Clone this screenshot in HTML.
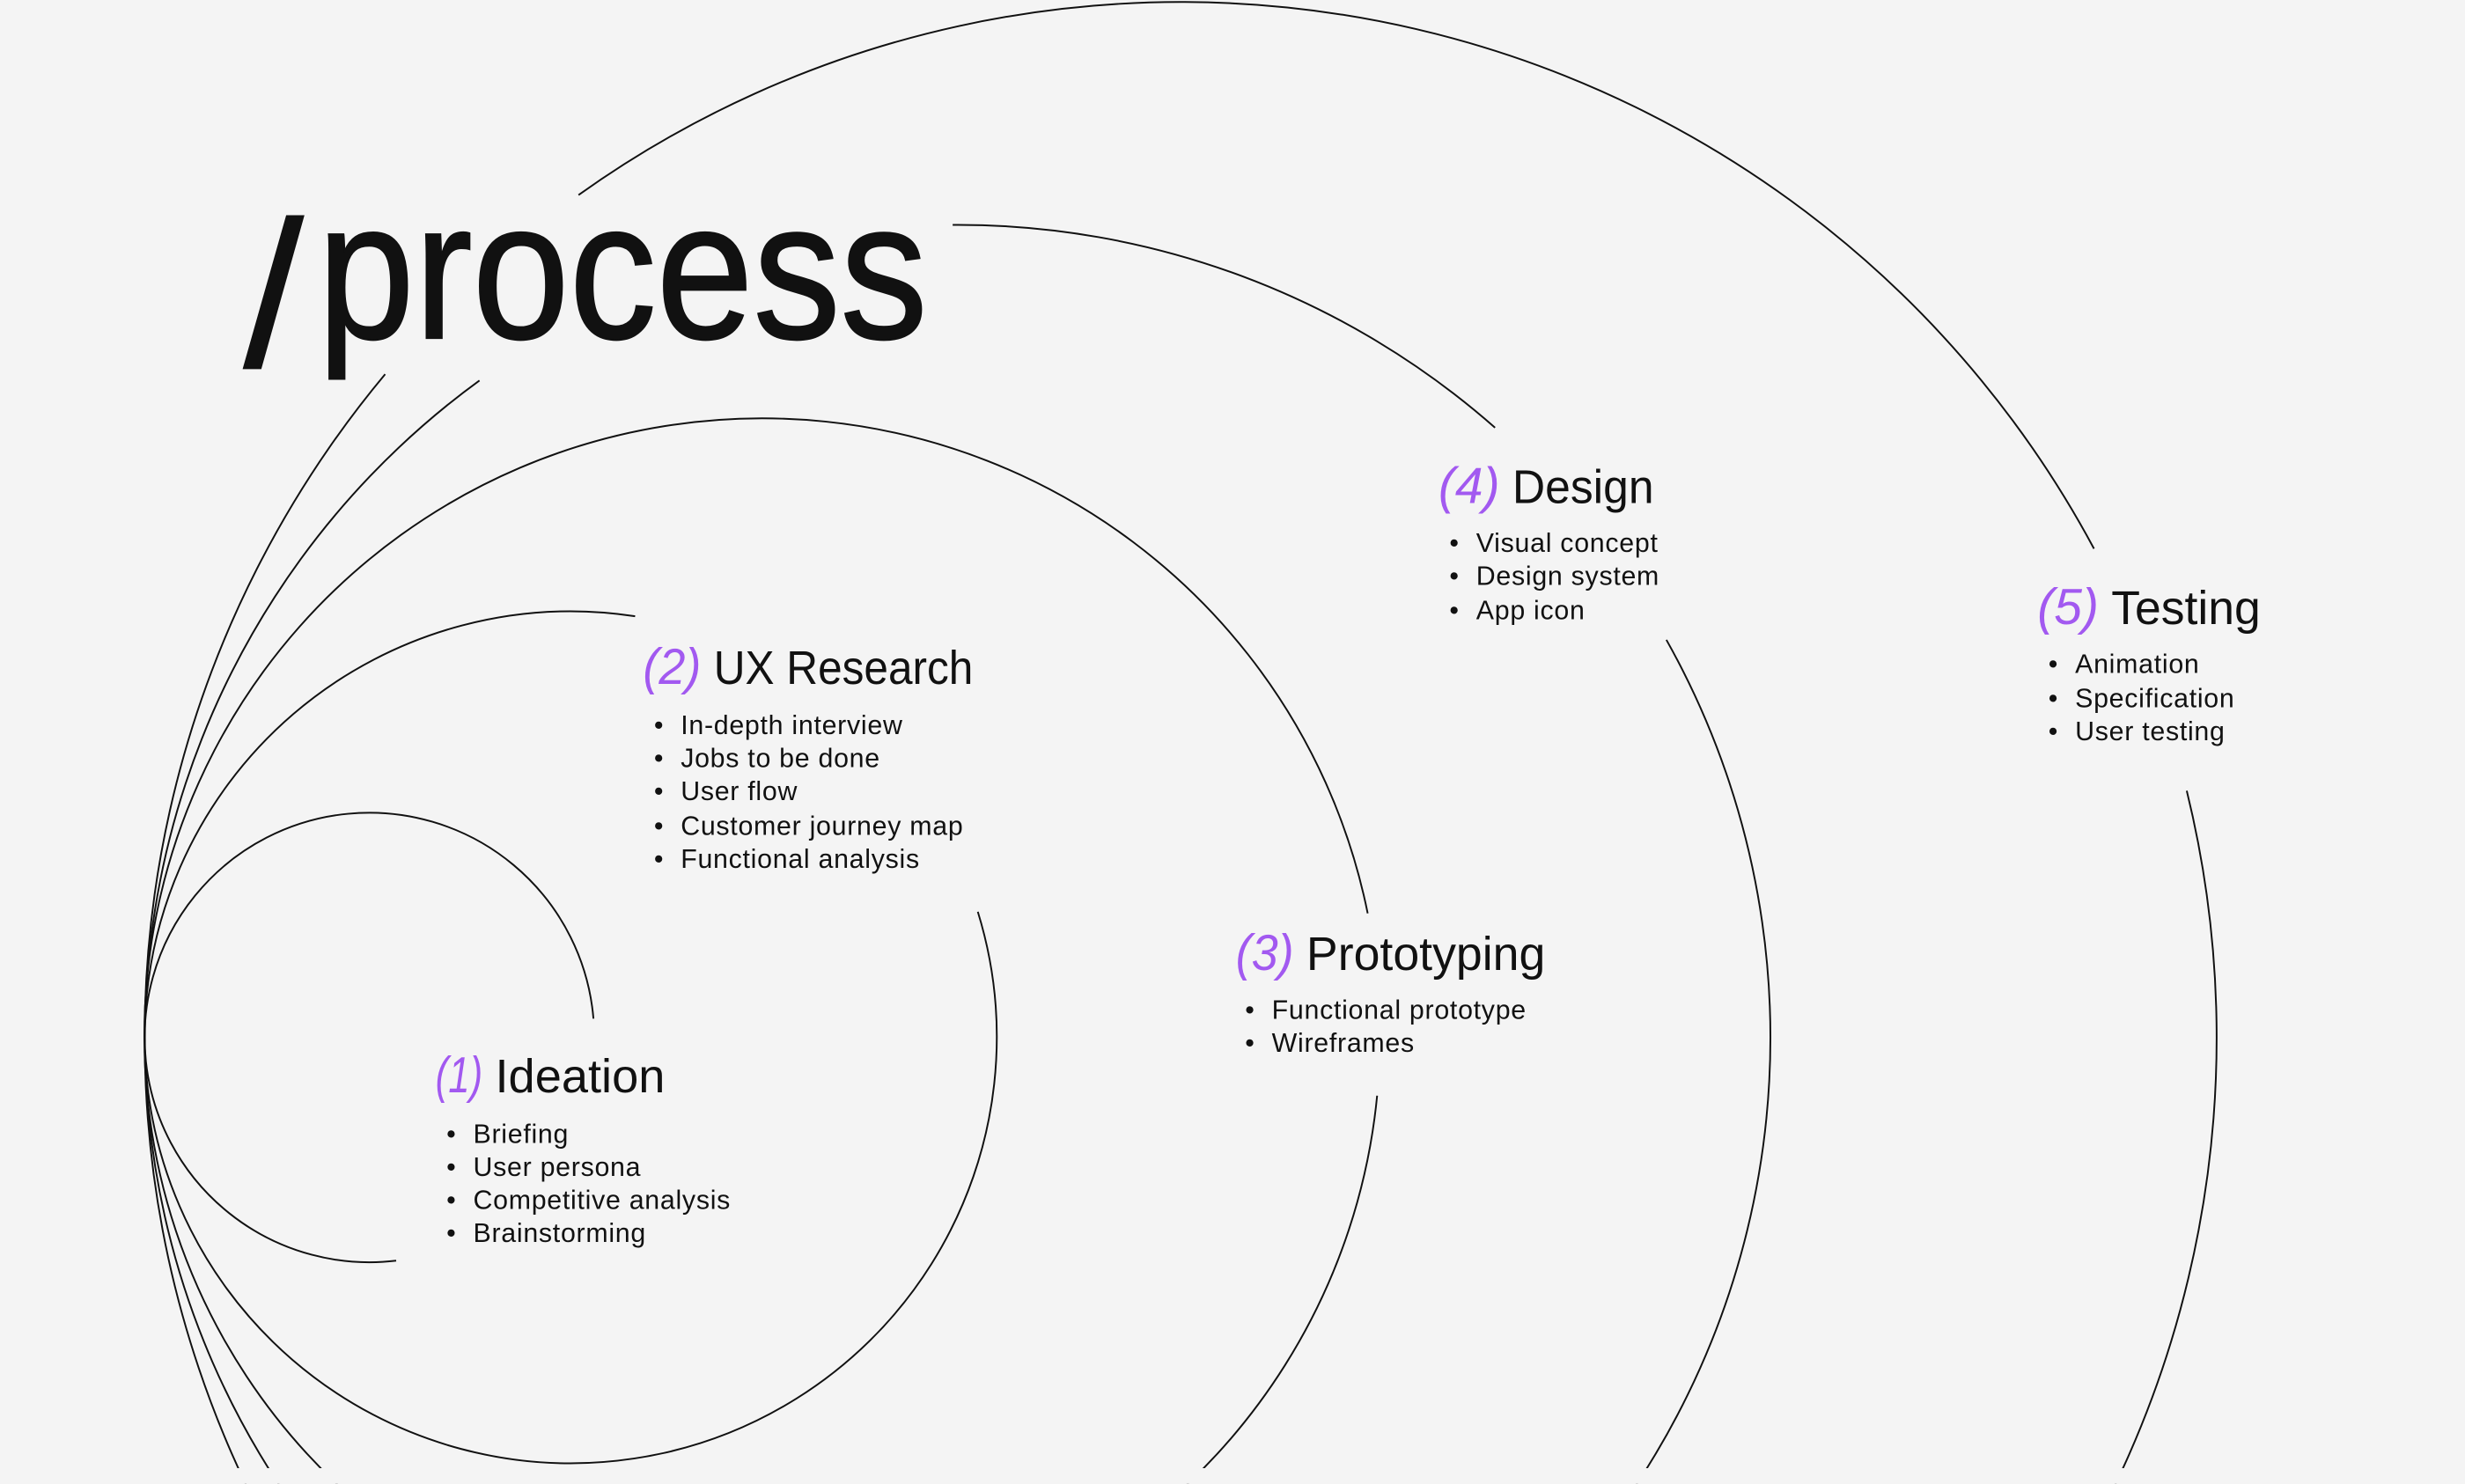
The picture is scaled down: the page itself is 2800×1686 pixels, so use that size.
<!DOCTYPE html>
<html><head><meta charset="utf-8"><style>
html,body{margin:0;padding:0;background:#f4f4f4;overflow:hidden;width:2800px;height:1686px;}
svg{display:block;overflow:hidden;}
text{font-family:"Liberation Sans",sans-serif;fill:#111;}
.n{fill:#a259f0;font-style:italic;font-size:32px;}
.h{font-size:30px;}
.b{font-size:17px;letter-spacing:0.4px;}
</style></head><body>
<svg width="2800" height="1686" viewBox="0 0 1568 944" xmlns="http://www.w3.org/2000/svg">
<rect width="1568" height="944" fill="#f4f4f4"/>
<g fill="none" stroke="#111" stroke-width="1.1">
<path d="M377.5 648 A143 143 0 1 0 252 802"/>
<path d="M404 392 A271 271 0 1 0 622 580"/>
<path d="M870 581 A393 393 0 1 0 876 697"/>
<path d="M606 143 A517 517 0 0 1 951 272"/>
<path d="M1060 407 A517 517 0 1 1 305 242"/>
<path d="M368 124 A659 659 0 0 1 1332 349"/>
<path d="M1391 503 A659 659 0 1 1 245 238"/>
</g>
<rect x="0" y="934" width="1568" height="10" fill="#f4f4f4"/>
<text x="155" y="233" font-size="132" stroke="#111" stroke-width="1" textLength="38" lengthAdjust="spacingAndGlyphs">/</text>
<text x="202" y="215" font-size="125" stroke="#111" stroke-width="1.2" textLength="388" lengthAdjust="spacingAndGlyphs">process</text>

<text class="n" x="277" y="695" textLength="30" lengthAdjust="spacingAndGlyphs">(1)</text><text class="h" x="315" y="695" textLength="108" lengthAdjust="spacingAndGlyphs">Ideation</text>
<text class="b" x="284" y="727">•</text><text class="b" x="301" y="727">Briefing</text>
<text class="b" x="284" y="748">•</text><text class="b" x="301" y="748">User persona</text>
<text class="b" x="284" y="769">•</text><text class="b" x="301" y="769">Competitive analysis</text>
<text class="b" x="284" y="790">•</text><text class="b" x="301" y="790">Brainstorming</text>

<text class="n" x="409" y="435" textLength="37" lengthAdjust="spacingAndGlyphs">(2)</text><text class="h" x="454" y="435" textLength="165" lengthAdjust="spacingAndGlyphs">UX Research</text>
<text class="b" x="416" y="467">•</text><text class="b" x="433" y="467">In-depth interview</text>
<text class="b" x="416" y="488">•</text><text class="b" x="433" y="488">Jobs to be done</text>
<text class="b" x="416" y="509">•</text><text class="b" x="433" y="509">User flow</text>
<text class="b" x="416" y="531">•</text><text class="b" x="433" y="531">Customer journey map</text>
<text class="b" x="416" y="552">•</text><text class="b" x="433" y="552">Functional analysis</text>

<text class="n" x="786" y="617" textLength="37" lengthAdjust="spacingAndGlyphs">(3)</text><text class="h" x="831" y="617" textLength="152" lengthAdjust="spacingAndGlyphs">Prototyping</text>
<text class="b" x="792" y="648">•</text><text class="b" x="809" y="648">Functional prototype</text>
<text class="b" x="792" y="669">•</text><text class="b" x="809" y="669">Wireframes</text>

<text class="n" x="915" y="320" textLength="39" lengthAdjust="spacingAndGlyphs">(4)</text><text class="h" x="962" y="320" textLength="90" lengthAdjust="spacingAndGlyphs">Design</text>
<text class="b" x="922" y="351">•</text><text class="b" x="939" y="351">Visual concept</text>
<text class="b" x="922" y="372">•</text><text class="b" x="939" y="372">Design system</text>
<text class="b" x="922" y="394">•</text><text class="b" x="939" y="394">App icon</text>

<text class="n" x="1296" y="397" textLength="39" lengthAdjust="spacingAndGlyphs">(5)</text><text class="h" x="1343" y="397" textLength="95" lengthAdjust="spacingAndGlyphs">Testing</text>
<text class="b" x="1303" y="428">•</text><text class="b" x="1320" y="428">Animation</text>
<text class="b" x="1303" y="450">•</text><text class="b" x="1320" y="450">Specification</text>
<text class="b" x="1303" y="471">•</text><text class="b" x="1320" y="471">User testing</text>
</svg>
</body></html>
